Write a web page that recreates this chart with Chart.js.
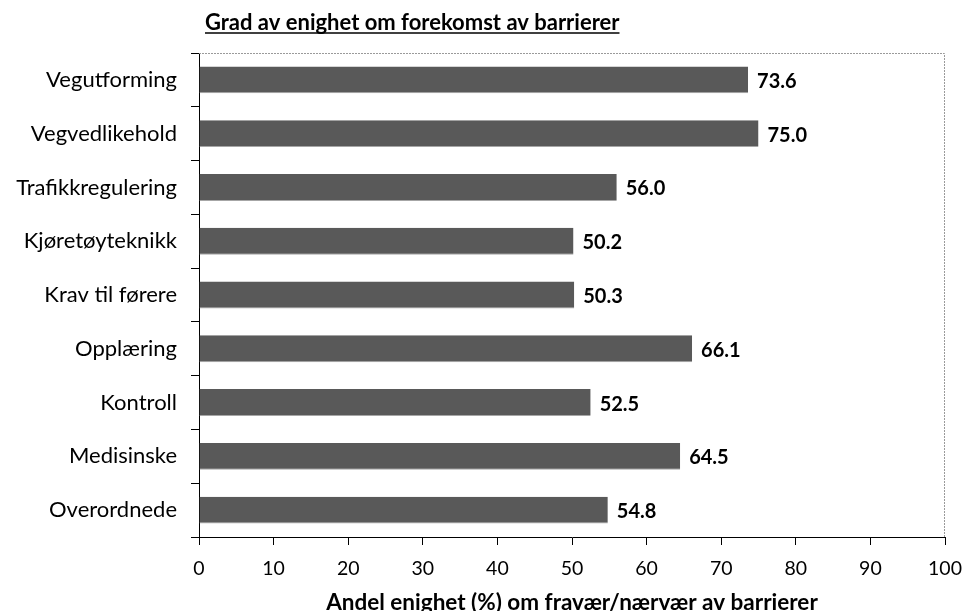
<!DOCTYPE html>
<html>
<head>
<meta charset="utf-8">
<script src="https://cdn.jsdelivr.net/npm/chart.js@4.4.1/dist/chart.umd.min.js"></script>
<style>
  html, body { margin: 0; padding: 0; background: #fff; }
  #wrap { width: 966px; height: 611px; position: relative; }
</style>
</head>
<body>
<div id="wrap"><canvas id="c" width="966" height="611"></canvas></div>
<script>
const categories = ["Vegutforming", "Vegvedlikehold", "Trafikkregulering", "Kjøretøyteknikk", "Krav til førere", "Opplæring", "Kontroll", "Medisinske", "Overordnede"];
const values = [73.6, 75.0, 56.0, 50.2, 50.3, 66.1, 52.5, 64.5, 54.8];
const chartTitle = "Grad av enighet om forekomst av barrierer";
const xTitle = "Andel enighet (%) om fravær/nærvær av barrierer";

const FONT = "Lato, 'Open Sans', sans-serif";

const titlePlugin = {
  id: 'uTitle',
  afterDraw(chart) {
    const ctx = chart.ctx;
    ctx.save();
    ctx.font = "bold 22px " + FONT;
    ctx.fillStyle = "#000";
    ctx.textBaseline = "alphabetic";
    ctx.textAlign = "left";
    const x = 205, y = 30;
    ctx.fillText(chartTitle, x, y);
    const w = ctx.measureText(chartTitle).width;
    ctx.strokeStyle = "#000";
    ctx.lineWidth = 1.6;
    ctx.beginPath();
    ctx.moveTo(x, y + 3);
    ctx.lineTo(x + w, y + 3);
    ctx.stroke();
    ctx.restore();
  }
};

const framePlugin = {
  id: 'frame',
  beforeDatasetsDraw(chart) {
    const a = chart.chartArea, ctx = chart.ctx;
    ctx.save();
    ctx.strokeStyle = "#9a9a9a";
    ctx.lineWidth = 1;
    ctx.setLineDash([2, 1]);
    ctx.beginPath();
    ctx.moveTo(a.left, a.top + 0.5);
    ctx.lineTo(a.right - 0.5, a.top + 0.5);
    ctx.lineTo(a.right - 0.5, a.bottom);
    ctx.stroke();
    ctx.restore();
  }
};

const labelPlugin = {
  id: 'barLabels',
  afterDatasetsDraw(chart) {
    const ctx = chart.ctx;
    const meta = chart.getDatasetMeta(0);
    ctx.save();
    ctx.font = "bold 20px " + FONT;
    ctx.fillStyle = "#000";
    ctx.textAlign = "left";
    ctx.textBaseline = "middle";
    meta.data.forEach((bar, i) => {
      ctx.fillText(values[i].toFixed(1), bar.x + 9, bar.y + 1.5);
    });
    ctx.restore();
  }
};

new Chart(document.getElementById('c'), {
  type: 'bar',
  data: {
    labels: categories,
    datasets: [{
      data: values,
      backgroundColor: '#595959',
      borderColor: '#a6a6a6',
      borderWidth: {top: 0, left: 0, right: 0, bottom: 1},
      borderSkipped: false,
      categoryPercentage: 1.0,
      barPercentage: 0.5
    }]
  },
  options: {
    indexAxis: 'y',
    responsive: false,
    animation: false,
    layout: { padding: { top: 53, right: 21, left: 0, bottom: 0 } },
    plugins: { legend: { display: false }, tooltip: { enabled: false }, title: { display: false } },
    scales: {
      x: {
        min: 0, max: 100,
        ticks: { stepSize: 10, color: '#000', font: { family: FONT, size: 19.5 }, padding: 12, maxRotation: 0 },
        grid: { drawOnChartArea: false, tickLength: 8, color: '#000', tickColor: '#000' },
        border: { color: '#000', width: 1 },
        title: { display: true, text: xTitle, color: '#000', font: { family: FONT, size: 22.5, weight: 'bold', lineHeight: 1 }, padding: { top: 0, bottom: -3 } },
        afterFit(scale) { scale.height = 74; scale.paddingLeft = 0; scale.paddingRight = 0; }
      },
      y: {
        ticks: { color: '#000', font: { family: FONT, size: 22 }, padding: 14 },
        grid: { drawOnChartArea: false, offset: true, tickLength: 8, color: '#000', tickColor: '#000' },
        border: { color: '#000', width: 1 },
        afterFit(scale) { scale.width = 199; scale.paddingTop = 0; scale.paddingBottom = 0; }
      }
    }
  },
  plugins: [titlePlugin, framePlugin, labelPlugin]
});
</script>
</body>
</html>
